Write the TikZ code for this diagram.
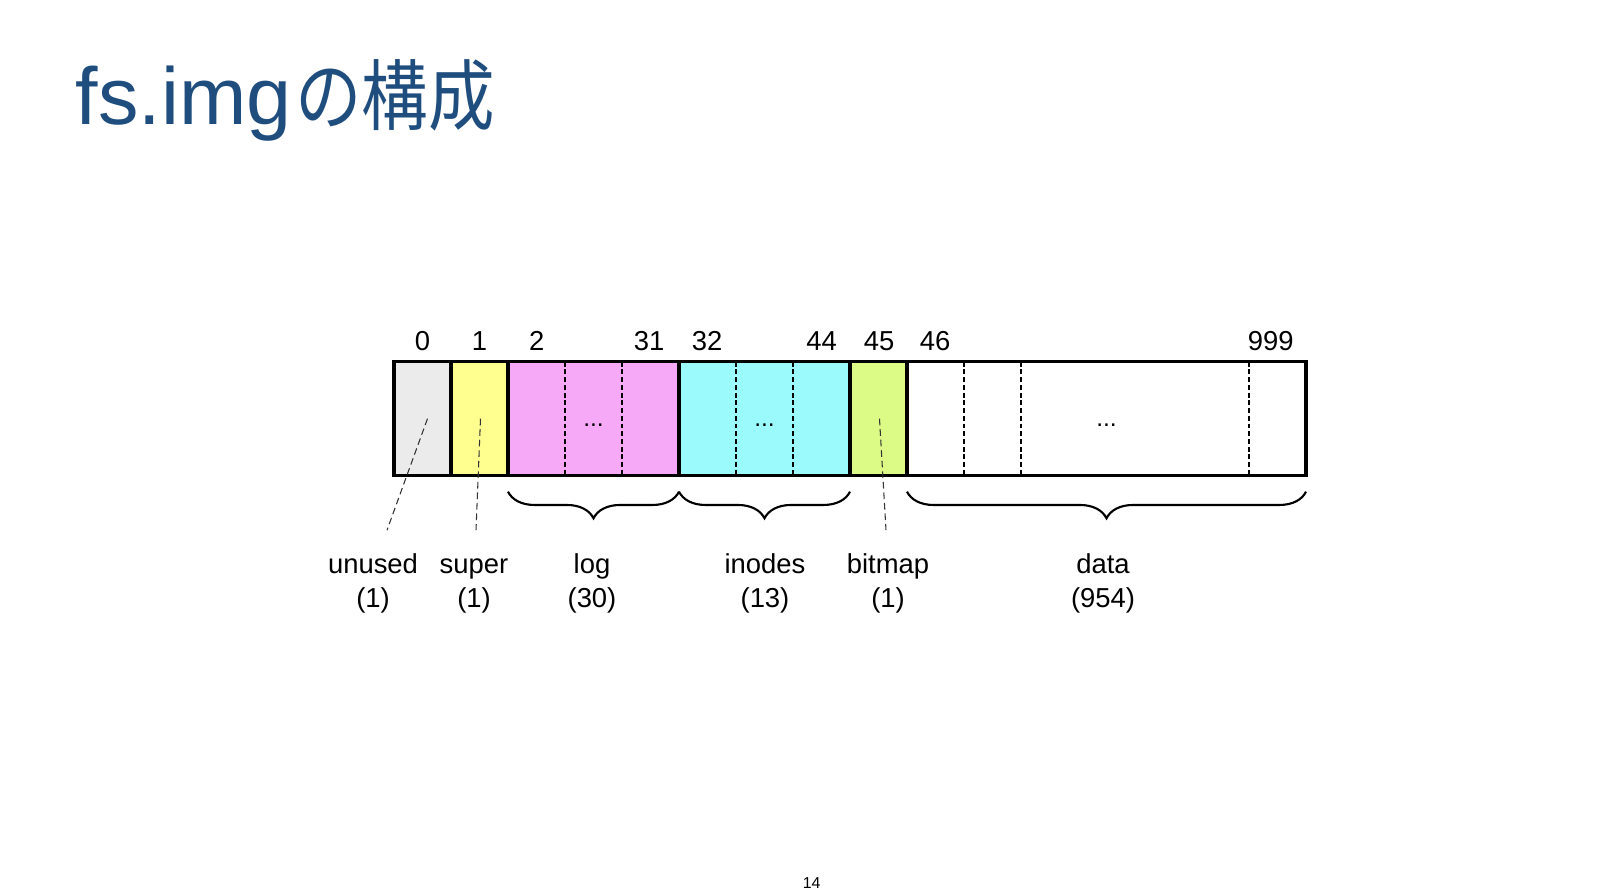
\documentclass[tikz,border=0pt]{standalone}
\usepackage{fontspec}
\setmainfont{Liberation Sans}
\newfontfamily\jpfont[FakeStretch=0.86]{Noto Sans CJK JP}
\usepackage{tikz}
\usetikzlibrary{positioning,decorations.pathreplacing}

\definecolor{titleblue}{HTML}{1F4E7E}
\definecolor{unusedgray}{HTML}{EBEBEB}
\definecolor{superyellow}{HTML}{FFFF8F}
\definecolor{logpink}{HTML}{F5A9F7}
\definecolor{inodecyan}{HTML}{9AFAFC}
\definecolor{bitmapgreen}{HTML}{DCFA86}

\begin{document}
\begin{tikzpicture}[node distance=0pt,
    block/.style={draw, rectangle, line width=0.9pt, minimum height=1.14cm, inner sep=0pt, outer sep=0pt},
    sep/.style={line width=0.6pt, dash pattern=on 1.4pt off 0.8pt},
    leader/.style={line width=0.3pt, draw=black!80, dash pattern=on 1.9pt off 1.1pt},
    brc/.style={line width=0.6pt, decorate, decoration={brace, mirror, amplitude=2.66mm}},
    num/.style={anchor=base, inner sep=0pt, font=\fontsize{7.8}{9.67}\selectfont},
    lbl/.style={anchor=north, inner sep=0pt, align=center, font=\fontsize{7.8}{9.67}\selectfont},
    dots/.style={inner sep=0pt, font=\fontsize{7}{8}\selectfont}]
    \useasboundingbox (0,0) rectangle (16.10,8.96);

    % title
    \node[anchor=base west, inner sep=0pt, text=titleblue, font=\fontsize{23}{27}\selectfont] (title) at (0.75,7.71) {fs.img\hspace{0.04cm}{\jpfont\fontsize{22}{26}\selectfont の構成}};

    % blocks of the image
    \node[block, fill=unusedgray, minimum width=0.57cm, anchor=west] (unused) at (3.94,4.773) {};
    \node[block, fill=superyellow, minimum width=0.57cm, right=of unused] (super) {};
    \node[block, fill=logpink, minimum width=1.71cm, right=of super] (log) {};
    \node[block, fill=inodecyan, minimum width=1.71cm, right=of log] (inodes) {};
    \node[block, fill=bitmapgreen, minimum width=0.57cm, right=of inodes] (bitmap) {};
    \node[block, fill=white, minimum width=3.99cm, right=of bitmap] (data) {};

    \foreach \i in {1,2} {
        \draw[sep] ([xshift=\i*5.7mm]log.north west) -- ([xshift=\i*5.7mm]log.south west);
        \draw[sep] ([xshift=\i*5.7mm]inodes.north west) -- ([xshift=\i*5.7mm]inodes.south west);
    }
    \foreach \i in {1,2,6}
        \draw[sep] ([xshift=\i*5.7mm]data.north west) -- ([xshift=\i*5.7mm]data.south west);

    \node[dots, yshift=-0.7mm] (logdots) at (log.center) {...};
    \node[dots, yshift=-0.7mm] (inodesdots) at (inodes.center) {...};
    \node[dots, yshift=-0.7mm] (datadots) at (data.center) {...};

    % block numbers
    \foreach \n/\x in {0/4.225, 1/4.795, 2/5.367, 31/6.49, 32/7.07, 44/8.217, 45/8.79, 46/9.35, 999/12.707}
        \node[num] (n\n) at (\x,5.453) {\n};

    % braces
    \draw[brc] ([yshift=-1.6mm]log.south west) -- ([yshift=-1.6mm]log.south east);
    \draw[brc] ([yshift=-1.6mm]inodes.south west) -- ([yshift=-1.6mm]inodes.south east);
    \draw[brc] ([yshift=-1.6mm]data.south west) -- ([yshift=-1.6mm]data.south east);

    % labels
    \node[lbl] (lunused) at (3.73,3.468) {\strut unused\\(1)};
    \node[lbl] (lsuper) at (4.74,3.468) {\strut super\\(1)};
    \node[lbl] (llog) at (5.92,3.468) {\strut log\\(30)};
    \node[lbl] (linodes) at (7.65,3.468) {\strut inodes\\(13)};
    \node[lbl] (lbitmap) at (8.88,3.468) {\strut bitmap\\(1)};
    \node[lbl] (ldata) at (11.03,3.468) {\strut data\\(954)};

    \draw[leader] ([xshift=0.5mm]unused.center) -- ([xshift=1.4mm,yshift=1.9mm]lunused.north);
    \draw[leader] ([xshift=0.1mm]super.center) -- ([xshift=0.2mm,yshift=1.9mm]lsuper.north);
    \draw[leader] ([xshift=0.1mm]bitmap.center) -- ([xshift=-0.2mm,yshift=1.9mm]lbitmap.north);

    % page number
    \node[inner sep=0pt, font=\fontsize{4.5}{5}\selectfont] (page) at (8.117,0.13) {14};
\end{tikzpicture}
\end{document}
